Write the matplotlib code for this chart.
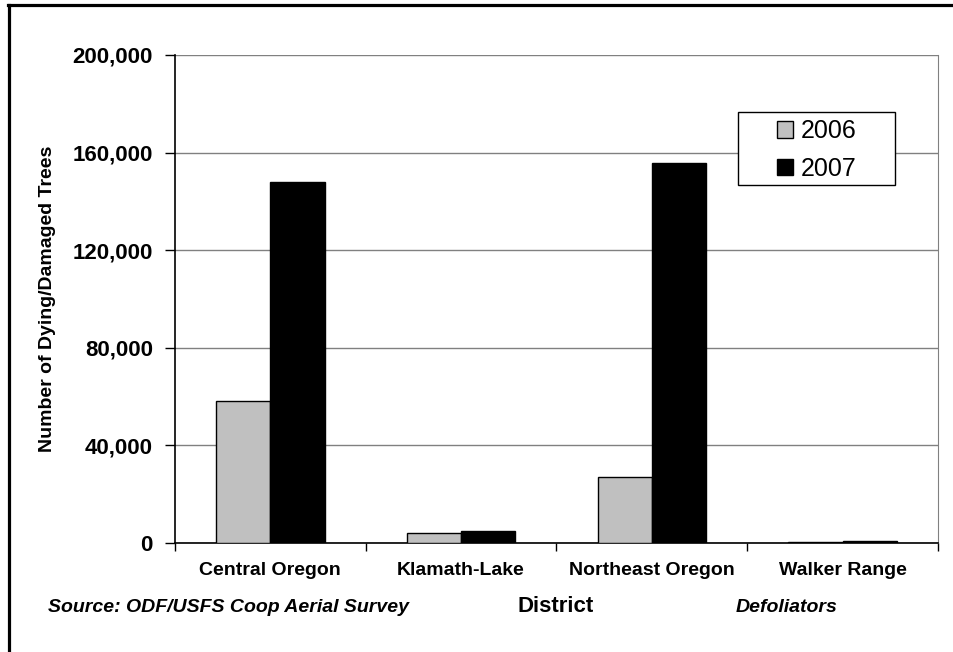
import numpy as np
import matplotlib.pyplot as plt
from matplotlib.lines import Line2D
from matplotlib.patches import Rectangle
from matplotlib.ticker import FuncFormatter

plt.rcParams['font.family'] = ['Liberation Sans', 'DejaVu Sans']

# Data
districts = ['Central Oregon', 'Klamath-Lake', 'Northeast Oregon', 'Walker Range']
trees_2006 = [58000, 4000, 27200, 500]
trees_2007 = [147800, 4900, 155900, 700]
years = ['2006', '2007']

W, H = 954, 652
fig = plt.figure(figsize=(W / 100, H / 100), dpi=100)
ax = fig.add_axes([175 / W, 109 / H, 763 / W, 488 / H])

x = np.arange(len(districts)) + 0.5
bw = 0.285
ax.bar(x - bw / 2, trees_2006, bw, color='#C0C0C0', edgecolor='black', linewidth=1, label=years[0], zorder=3)
ax.bar(x + bw / 2, trees_2007, bw, color='black', edgecolor='black', linewidth=1, label=years[1], zorder=3)

ax.set_xlim(0, len(districts))
ax.set_ylim(0, 200000)
ax.set_yticks(np.arange(0, 200001, 40000))
ax.yaxis.set_major_formatter(FuncFormatter(lambda v, p: f'{int(v):,}'))
ax.grid(axis='y', color='#808080', linewidth=1, zorder=0)

# category boundary ticks, labels in the middle
ax.set_xticks(np.arange(len(districts) + 1))
ax.set_xticklabels([])
ax.set_xticks(x, minor=True)
ax.set_xticklabels(districts, minor=True)
ax.tick_params(axis='x', which='major', direction='out', length=6, width=1)
ax.tick_params(axis='x', which='minor', length=0, pad=14, labelsize=14)
ax.tick_params(axis='y', direction='out', length=7, width=1, pad=9, labelsize=16)
for lab in ax.get_xticklabels(minor=True) + ax.get_yticklabels():
    lab.set_fontweight('bold')

ax.spines['top'].set_visible(False)
ax.spines['right'].set_color('#808080')
ax.spines['left'].set_linewidth(1.2)
ax.spines['bottom'].set_linewidth(1.2)

ax.set_ylabel('Number of Dying/Damaged Trees', fontsize=14, fontweight='bold', labelpad=12)

# legend box drawn separately so it can be wider than its content
box = Rectangle((738 / W, 1 - 185 / H), 157 / W, 73 / H, transform=fig.transFigure,
                facecolor='white', edgecolor='black', linewidth=1, zorder=4, clip_on=False)
ax.add_patch(box)
leg = ax.legend(loc='center', bbox_to_anchor=(817 / W, 1 - 150 / H), bbox_transform=fig.transFigure,
                fontsize=18, frameon=False, handlelength=0.65, handleheight=0.65,
                handletextpad=0.3, labelspacing=0.55, borderpad=0, borderaxespad=0)
leg.set_zorder(5)

fig.text(556 / W, 1 - 606 / H, 'District', ha='center', va='center', fontsize=16, fontweight='bold')
fig.text(48 / W, 1 - 608 / H, 'Source: ODF/USFS Coop Aerial Survey', ha='left', va='center',
         fontsize=14, fontweight='bold', fontstyle='italic')
fig.text(736 / W, 1 - 608 / H, 'Defoliators', ha='left', va='center',
         fontsize=14, fontweight='bold', fontstyle='italic')

# outer frame (left and top edges visible)
fig.add_artist(Line2D([9.5 / W, 9.5 / W], [0, 1 - 4.5 / H], color='black', linewidth=2.3, transform=fig.transFigure))
fig.add_artist(Line2D([8 / W, 1], [1 - 4.5 / H, 1 - 4.5 / H], color='black', linewidth=2.3, transform=fig.transFigure))

fig.savefig('out.png', dpi=100)
